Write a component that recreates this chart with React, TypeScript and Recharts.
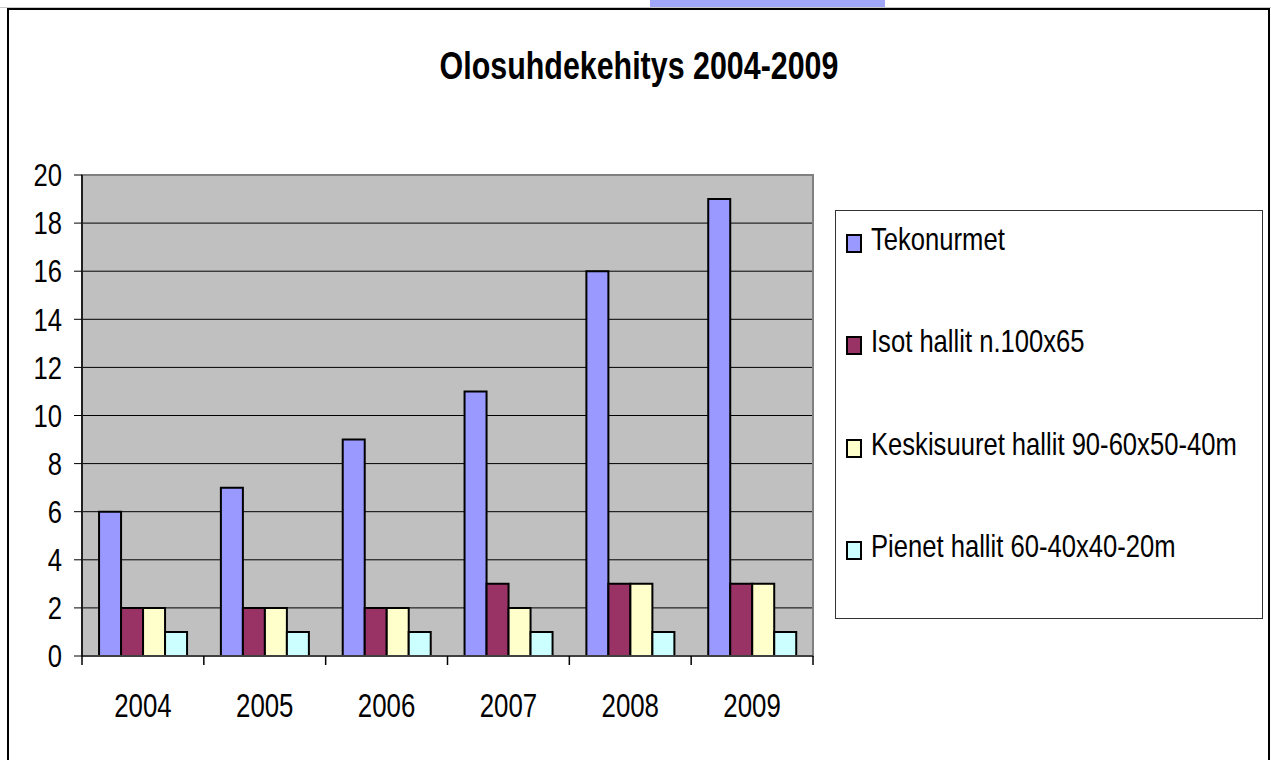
import React from 'react';
import {
  BarChart,
  Bar,
  XAxis,
  YAxis,
  CartesianGrid,
  Legend,
  ReferenceArea,
} from 'recharts';

const years = ['2004', '2005', '2006', '2007', '2008', '2009'];
const tekonurmet = [6, 7, 9, 11, 16, 19];
const isotHallit = [2, 2, 2, 3, 3, 3];
const keskisuuret = [2, 2, 2, 2, 3, 3];
const pienet = [1, 1, 1, 1, 1, 1];
const seriesKeys = ['s0', 's1', 's2', 's3'];
const seriesNames = [
  'Tekonurmet',
  'Isot hallit n.100x65',
  'Keskisuuret hallit 90-60x50-40m',
  'Pienet hallit 60-40x40-20m',
];
const seriesColors = ['#9999FF', '#993366', '#FFFFCC', '#CCFFFF'];
const yTicks = [0, 2, 4, 6, 8, 10, 12, 14, 16, 18, 20];
const title = 'Olosuhdekehitys 2004-2009';

const data = years.map((year, i) => ({
  year,
  s0: tekonurmet[i],
  s1: isotHallit[i],
  s2: keskisuuret[i],
  s3: pienet[i],
}));

const FONT = "'Liberation Sans', Arial, sans-serif";
const X_TICK_MARGIN = 37;
const X_TICK_LEN = 9;

const YTick = (props: any) => {
  const { x, y, payload } = props;
  return (
    <g transform={`translate(${x},${y}) scale(0.8,1)`}>
      <text x={0} y={0} dy="0.35em" textAnchor="end" fill="#000" fontSize={32} fontFamily={FONT}>
        {payload.value}
      </text>
    </g>
  );
};

const XTick = (props: any) => {
  const { x, y, payload, index, visibleTicksCount } = props;
  const half = typeof payload.offset === 'number' ? payload.offset : 0;
  const y0 = y - X_TICK_MARGIN;
  return (
    <g>
      {half > 0 && (
        <line x1={x - half} x2={x - half} y1={y0} y2={y0 + X_TICK_LEN} stroke="#000" strokeWidth={1.5} />
      )}
      {half > 0 && index === visibleTicksCount - 1 && (
        <line x1={x + half} x2={x + half} y1={y0} y2={y0 + X_TICK_LEN} stroke="#000" strokeWidth={1.5} />
      )}
      <g transform={`translate(${x},${y}) scale(0.76,1)`}>
        <text x={0} y={0} dy="0.71em" textAnchor="middle" fill="#000" fontSize={34} fontFamily={FONT}>
          {payload.value}
        </text>
      </g>
    </g>
  );
};

const renderLegend = (props: any) => {
  const payload = [...(props.payload || [])].sort(
    (a: any, b: any) => seriesKeys.indexOf(a.dataKey) - seriesKeys.indexOf(b.dataKey)
  );
  return (
    <div
      style={{
        position: 'relative',
        width: '100%',
        height: '100%',
        boxSizing: 'border-box',
        border: '1px solid #333',
        background: '#fff',
        fontFamily: FONT,
      }}
    >
      {payload.map((entry: any, i: number) => (
        <React.Fragment key={i}>
          <span
            style={{
              position: 'absolute',
              left: 10,
              top: 23 + 102.3 * i,
              width: 16,
              height: 19,
              boxSizing: 'border-box',
              background: entry.color,
              border: '2px solid #000',
            }}
          />
          <span
            style={{
              position: 'absolute',
              left: 35,
              top: 12 + 102.3 * i,
              fontSize: 32,
              lineHeight: '32px',
              color: '#000',
              whiteSpace: 'nowrap',
              transform: 'scaleX(0.8)',
              transformOrigin: '0 0',
            }}
          >
            {entry.value}
          </span>
        </React.Fragment>
      ))}
    </div>
  );
};

export default function App() {
  return (
    <div style={{ position: 'absolute', left: 0, top: 0, width: 1271, height: 760, background: '#fff', overflow: 'hidden' }}>
      <div style={{ position: 'absolute', left: 650, top: 0, width: 235, height: 8, background: '#a0a6f8' }} />
      <div style={{ position: 'absolute', left: 0, top: 7, width: 1271, height: 1, background: '#c8c8c8' }} />
      <div
        style={{
          position: 'absolute',
          left: 7,
          top: 8,
          width: 1259,
          height: 800,
          border: '2px solid #000',
        }}
      />
      <div
        style={{
          position: 'absolute',
          left: 0,
          width: 1278,
          top: 46,
          textAlign: 'center',
          fontFamily: FONT,
          fontWeight: 'bold',
          fontSize: 38,
          lineHeight: '40px',
          color: '#000',
          transform: 'scaleX(0.8)',
          transformOrigin: '639px 0',
        }}
      >
        {title}
      </div>
      <div style={{ position: 'absolute', left: 0, top: 0 }}>
        <BarChart
          width={1271}
          height={760}
          data={data}
          margin={{ top: 175, right: 458, bottom: 0, left: 0 }}
          barCategoryGap="14%"
          barGap={0}
        >
          <CartesianGrid vertical={false} fill="#c0c0c0" fillOpacity={1} stroke="#000" strokeWidth={1} />
          <ReferenceArea y1={0} y2={20} fill="none" stroke="#808080" strokeWidth={2} ifOverflow="visible" />
          <XAxis
            dataKey="year"
            height={104}
            tickLine={false}
            tickSize={0}
            tickMargin={X_TICK_MARGIN}
            axisLine={{ stroke: '#404040', strokeWidth: 2 }}
            tick={<XTick />}
            interval={0}
          />
          <YAxis
            width={82}
            domain={[0, 20]}
            ticks={yTicks}
            interval={0}
            tickSize={8}
            tickMargin={12}
            axisLine={{ stroke: '#000', strokeWidth: 1.5 }}
            tickLine={{ stroke: '#000' }}
            tick={<YTick />}
          />
          <Legend
            layout="vertical"
            verticalAlign="middle"
            align="center"
            wrapperStyle={{ position: 'absolute', left: 835, top: 210, width: 428, height: 409 }}
            content={renderLegend}
          />
          {seriesKeys.map((k, i) => (
            <Bar
              key={k}
              dataKey={k}
              name={seriesNames[i]}
              fill={seriesColors[i]}
              stroke="#000"
              strokeWidth={2}
              isAnimationActive={false}
            />
          ))}
        </BarChart>
      </div>
    </div>
  );
}
